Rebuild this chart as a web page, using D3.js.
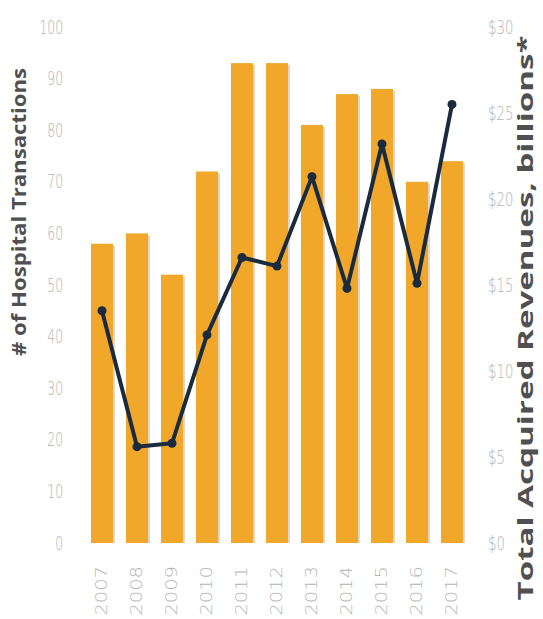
<!DOCTYPE html>
<html>
<head>
<meta charset="utf-8">
<script src="https://cdn.jsdelivr.net/npm/d3@7"></script>
<style>
  html, body { margin: 0; padding: 0; background: #fff; }
  svg { display: block; }
  .tick-label { font-family: "DejaVu Sans", "Liberation Sans", sans-serif; font-weight: 300; fill: #b3b3b3; }
  .axis-title { font-family: "Open Sans", "Lato", "DejaVu Sans", sans-serif; font-weight: bold; fill: #505050; }
</style>
</head>
<body>
<div id="chart"></div>
<script>
// data
const years = ["2007", "2008", "2009", "2010", "2011", "2012", "2013", "2014", "2015", "2016", "2017"];
const transactions = [58, 60, 52, 72, 93, 93, 81, 87, 88, 70, 74];
const revenues = [13.5, 5.6, 5.8, 12.1, 16.6, 16.1, 21.3, 14.8, 23.2, 15.1, 25.5];
const leftTicks = [0, 10, 20, 30, 40, 50, 60, 70, 80, 90, 100];
const rightTicks = [0, 5, 10, 15, 20, 25, 30];

const width = 543, height = 619;

const svg = d3.select("#chart").append("svg")
    .attr("width", width)
    .attr("height", height);

// scales
const x = d3.scaleBand()
    .domain(years)
    .range([84.5, 469.5])
    .paddingInner(0.37)
    .paddingOuter(0.185);

const yLeft = d3.scaleLinear().domain([0, 100]).range([543, 27]);
const yRight = d3.scaleLinear().domain([0, 30]).range([543, 27]);

// bars (with a faint shadow on the right edge)
const bars = svg.append("g");
bars.selectAll("rect.shadow")
    .data(years)
    .join("rect")
    .attr("class", "shadow")
    .attr("x", (d) => x(d) + 2)
    .attr("y", (d, i) => yLeft(transactions[i]) + 2)
    .attr("width", x.bandwidth())
    .attr("height", (d, i) => yLeft(0) - yLeft(transactions[i]) - 2)
    .attr("fill", "#b9a98e")
    .attr("opacity", 0.45);

bars.selectAll("rect.bar")
    .data(years)
    .join("rect")
    .attr("class", "bar")
    .attr("x", (d) => x(d))
    .attr("y", (d, i) => yLeft(transactions[i]))
    .attr("width", x.bandwidth())
    .attr("height", (d, i) => yLeft(0) - yLeft(transactions[i]))
    .attr("fill", "#F0A72A");

// revenue line
const line = d3.line()
    .x((d, i) => x(years[i]) + x.bandwidth() / 2)
    .y((d) => yRight(d));

svg.append("path")
    .datum(revenues)
    .attr("d", line)
    .attr("fill", "none")
    .attr("stroke", "#1b2b3e")
    .attr("stroke-width", 4)
    .attr("stroke-linejoin", "round");

svg.append("g").selectAll("circle")
    .data(revenues)
    .join("circle")
    .attr("cx", (d, i) => x(years[i]) + x.bandwidth() / 2)
    .attr("cy", (d) => yRight(d))
    .attr("r", 4.5)
    .attr("fill", "#1b2b3e");

// left axis (narrow, tall digits like the reference)
const leftAxis = svg.append("g")
    .attr("transform", "translate(63,0)")
    .call(d3.axisLeft(yLeft).tickValues(leftTicks).tickSize(0).tickPadding(0));
leftAxis.select(".domain").remove();
leftAxis.selectAll("text")
    .attr("class", "tick-label")
    .attr("font-size", 19)
    .attr("fill", null)
    .attr("x", 0)
    .attr("transform", "scale(0.65,1)");

// right axis
const rightAxis = svg.append("g")
    .attr("transform", "translate(488,0)")
    .call(d3.axisRight(yRight).tickValues(rightTicks).tickFormat((d) => "$" + d).tickSize(0).tickPadding(0));
rightAxis.select(".domain").remove();
rightAxis.selectAll("text")
    .attr("class", "tick-label")
    .attr("font-size", 19)
    .attr("fill", null)
    .attr("x", 0)
    .attr("transform", "scale(0.7,1)");

// bottom axis (rotated year labels)
const bottomAxis = svg.append("g")
    .attr("transform", "translate(0,566)")
    .call(d3.axisBottom(x).tickSize(0).tickPadding(0));
bottomAxis.select(".domain").remove();
bottomAxis.selectAll("text")
    .attr("class", "tick-label")
    .attr("font-size", 15)
    .attr("fill", null)
    .attr("transform", "rotate(-90) scale(1.3,1)")
    .attr("text-anchor", "end")
    .attr("x", 0)
    .attr("y", 0)
    .attr("dy", "0.35em");

// axis titles
svg.append("text")
    .attr("class", "axis-title")
    .attr("transform", "translate(26,212) rotate(-90)")
    .attr("text-anchor", "middle")
    .attr("font-size", 20)
    .attr("textLength", 288)
    .attr("lengthAdjust", "spacingAndGlyphs")
    .text("# of Hospital Transactions");

svg.append("text")
    .attr("class", "axis-title")
    .attr("transform", "translate(533,318) rotate(-90)")
    .attr("text-anchor", "middle")
    .attr("font-size", 22)
    .attr("textLength", 565)
    .attr("lengthAdjust", "spacingAndGlyphs")
    .text("Total Acquired Revenues, billions*");
</script>
</body>
</html>
